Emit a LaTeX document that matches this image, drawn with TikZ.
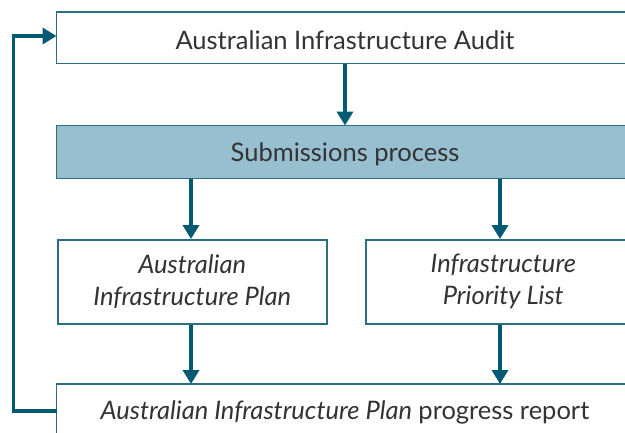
\documentclass[tikz,border=0pt]{standalone}
\usepackage{fontspec}
\setmainfont{Lato}
\usetikzlibrary{arrows.meta}
\definecolor{edge}{HTML}{2A6E82}
\definecolor{arr}{HTML}{005A73}
\definecolor{subfill}{HTML}{97BFD0}
\definecolor{txt}{HTML}{333333}
\tikzset{
  lbl/.style={text=txt, font=\fontsize{25.5}{32}\selectfont, inner sep=0pt},
  box/.style={draw=edge, line width=1.5pt, fill=white, lbl, align=center},
  flow/.style={draw=arr, line width=3.5pt, -{Triangle[length=14pt,width=16pt]}},
}
\begin{document}
\begin{tikzpicture}[x=1pt,y=-1pt]
\useasboundingbox (0,0) rectangle (625,432);
\clip (0,0) rectangle (625,432);
% boxes drawn as rectangles extending past the right/bottom edge
\draw[box] (56.5,12) rectangle (640,63.5);
\node[lbl] (audit) at (345,40) {Australian Infrastructure Audit};
\draw[box, fill=subfill] (56.5,125.5) rectangle (640,178.5);
\node[lbl] (subm) at (345,154) {Submissions process};
\node[box, minimum width=269pt, minimum height=84pt, anchor=north west] (plan) at (57,239) {\itshape Australian\\\itshape Infrastructure Plan};
\node[box, minimum width=275pt, minimum height=84pt, anchor=north west] (prio) at (365,239) {\itshape Infrastructure\\\itshape Priority List};
\draw[box] (56.5,384) rectangle (640,445);
\node[lbl] (report) at (345,412) {\itshape Australian Infrastructure Plan\/\upshape{} progress report};
% connectors
\coordinate (auditS) at (345,63.5);
\coordinate (submN) at (345,125.5);
\coordinate (submS1) at (191,178.5);
\coordinate (submS2) at (500,178.5);
\coordinate (repN1) at (191,384);
\coordinate (repN2) at (500,384);
\coordinate (repW) at (56.5,411);
\coordinate (auditW) at (56.5,36);
\draw[flow] (auditS) -- (submN);
\draw[flow] (submS1) -- (plan.north -| submS1);
\draw[flow] (submS2) -- (prio.north -| submS2);
\draw[flow] (plan.south -| repN1) -- (repN1);
\draw[flow] (prio.south -| repN2) -- (repN2);
\draw[flow] (repW) -- (13.5,411) -- (13.5,36) -- (auditW);
\end{tikzpicture}
\end{document}
